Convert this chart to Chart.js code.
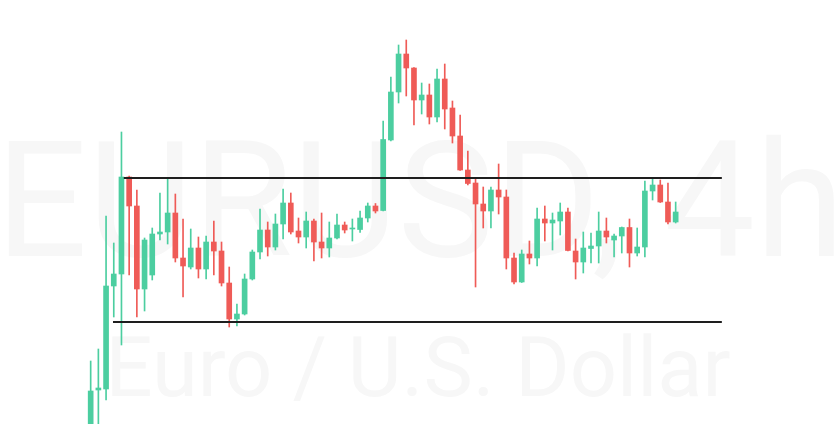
<!DOCTYPE html>
<html>
<head>
<meta charset="utf-8">
<style>
html,body{margin:0;padding:0;background:#ffffff;}
#wrap{width:836px;height:424px;position:relative;}
</style>
<script src="https://cdn.jsdelivr.net/npm/chart.js@4.4.1/dist/chart.umd.min.js"></script>
</head>
<body>
<div id="wrap"><canvas id="c"></canvas></div>
<script>
// EURUSD 4h candles (open, high, low, close)
const opens  = [1.0570,1.0610,1.0611,1.0714,1.0726,1.0823,1.0794,1.0711,1.0725,1.0766,
                1.0768,1.0787,1.0742,1.0733,1.0752,1.0731,1.0758,1.0749,1.0717,1.0681,
                1.0686,1.0721,1.0748,1.0770,1.0753,1.0776,1.0797,1.0769,1.0763,1.0779,
                1.0758,1.0752,1.0762,1.0775,1.0771,1.07705,1.0782,1.0794,1.07895,1.0860,
                1.0908,1.0946,1.0932,1.0900,1.0905,1.0883,1.0921,1.0892,1.0864,1.0830,
                1.0817,1.0796,1.0789,1.0810,1.0803,1.0742,1.0718,1.0746,1.0742,1.0781,
                1.0777,1.0779,1.0788,1.0749,1.0738,1.07515,1.0754,1.0769,1.0760,1.0764,
                1.07725,1.0747,1.0753,1.0809,1.0815,1.0798,1.0778];
const highs  = [1.0639,1.0651,1.0784,1.0757,1.0868,1.0824,1.0810,1.0762,1.0772,1.0807,
                1.0822,1.0806,1.0781,1.0771,1.0763,1.0764,1.0779,1.0758,1.0733,1.0696,
                1.0726,1.0750,1.0791,1.0778,1.0786,1.0811,1.0807,1.0782,1.0788,1.0781,
                1.0787,1.0778,1.0786,1.0778,1.0781,1.0789,1.0797,1.07965,1.0879,1.0923,
                1.0955,1.0960,1.09325,1.0917,1.0916,1.0931,1.0936,1.0899,1.0885,1.0849,
                1.0822,1.0813,1.0813,1.0836,1.0810,1.0747,1.0750,1.0759,1.0792,1.0794,
                1.0787,1.0797,1.0792,1.0761,1.0768,1.0767,1.0788,1.0782,1.0766,1.0773,
                1.0781,1.0772,1.0819,1.0822,1.0820,1.0817,1.0798];
const lows   = [1.0560,1.0568,1.0600,1.0683,1.0655,1.0725,1.0683,1.0689,1.0720,1.0760,
                1.0756,1.0738,1.0703,1.0731,1.0722,1.0721,1.0725,1.0714,1.0673,1.0674,
                1.0685,1.0720,1.0741,1.0744,1.0750,1.0761,1.0766,1.0757,1.0752,1.0739,
                1.0742,1.0743,1.0761,1.0767,1.0759,1.07675,1.0778,1.0787,1.0789,1.0859,
                1.0897,1.0904,1.0875,1.0886,1.0876,1.0878,1.0871,1.0857,1.08295,1.0815,
                1.0713,1.0772,1.0772,1.0786,1.0731,1.0716,1.07175,1.0736,1.0734,1.0759,
                1.0750,1.0765,1.0749,1.0721,1.0727,1.0737,1.0737,1.0757,1.0743,1.0747,
                1.0733,1.0744,1.0743,1.0800,1.07975,1.0776,1.0777];
const closes = [1.0609,1.0612,1.0714,1.0726,1.0823,1.0794,1.0711,1.0760,1.0766,1.0768,
                1.0787,1.0742,1.0734,1.0752,1.0731,1.0758,1.0749,1.0717,1.0681,1.0686,
                1.0721,1.0748,1.0770,1.0753,1.0776,1.0797,1.0768,1.0763,1.0779,1.0758,
                1.0752,1.0762,1.0775,1.0770,1.0772,1.0782,1.0794,1.0789,1.08605,1.0908,
                1.0946,1.0932,1.0900,1.0905,1.0883,1.0921,1.0891,1.0864,1.0830,1.08165,
                1.0796,1.0789,1.0810,1.0803,1.0742,1.0718,1.0746,1.0742,1.0781,1.0777,
                1.0780,1.0788,1.07495,1.0738,1.0752,1.0754,1.0769,1.0763,1.0764,1.07725,
                1.0747,1.0753,1.0809,1.0815,1.0798,1.0778,1.0788];

// Horizontal range levels (price) and their start/end bar index
const resistanceLevel = 1.0822;
const supportLevel = 1.0678;
const resistanceSpan = [4.3, 82];
const supportSpan = [2.9, 82];

const watermarkTitle = 'EURUSD, 4h';
const watermarkSubtitle = 'Euro / U.S. Dollar';

const UP = '#4ccea0';
const DOWN = '#ef5b57';
const colors = closes.map((c, i) => c >= opens[i] ? UP : DOWN);

const bodies = opens.map((o, i) => ({x: i, y: [o, closes[i]]}));
const wicks = lows.map((l, i) => ({x: i, y: [l, highs[i]]}));

const watermark = {
  id: 'watermark',
  beforeDatasetsDraw(chart) {
    const ctx = chart.ctx;
    ctx.save();
    ctx.fillStyle = '#f7f7f7';
    ctx.textAlign = 'center';
    ctx.textBaseline = 'alphabetic';
    ctx.font = '162px Roboto, "Open Sans", sans-serif';
    ctx.fillText(watermarkTitle, 420, 256);
    ctx.font = '83px Roboto, "Open Sans", sans-serif';
    ctx.fillText(watermarkSubtitle, 418, 396);
    ctx.restore();
  }
};

new Chart(document.getElementById('c'), {
  type: 'bar',
  data: {
    datasets: [
      {type: 'line', data: [{x: resistanceSpan[0], y: resistanceLevel}, {x: resistanceSpan[1], y: resistanceLevel}],
       borderColor: '#1e1e1e', borderWidth: 2, pointRadius: 0, order: 0},
      {type: 'line', data: [{x: supportSpan[0], y: supportLevel}, {x: supportSpan[1], y: supportLevel}],
       borderColor: '#1e1e1e', borderWidth: 2, pointRadius: 0, order: 0},
      {data: bodies, backgroundColor: colors, barThickness: 5, grouped: false, borderWidth: 0, order: 1},
      {data: wicks, backgroundColor: colors, barThickness: 1, grouped: false, borderWidth: 0, order: 2}
    ]
  },
  options: {
    responsive: true,
    maintainAspectRatio: false,
    animation: false,
    events: [],
    layout: {padding: 0},
    plugins: {legend: {display: false}, tooltip: {enabled: false}},
    scales: {
      x: {type: 'linear', offset: false, min: -11.78, max: 96.83, display: false},
      y: {min: 1.0576, max: 1.1000, display: false}
    }
  },
  plugins: [watermark]
});
</script>
</body>
</html>
